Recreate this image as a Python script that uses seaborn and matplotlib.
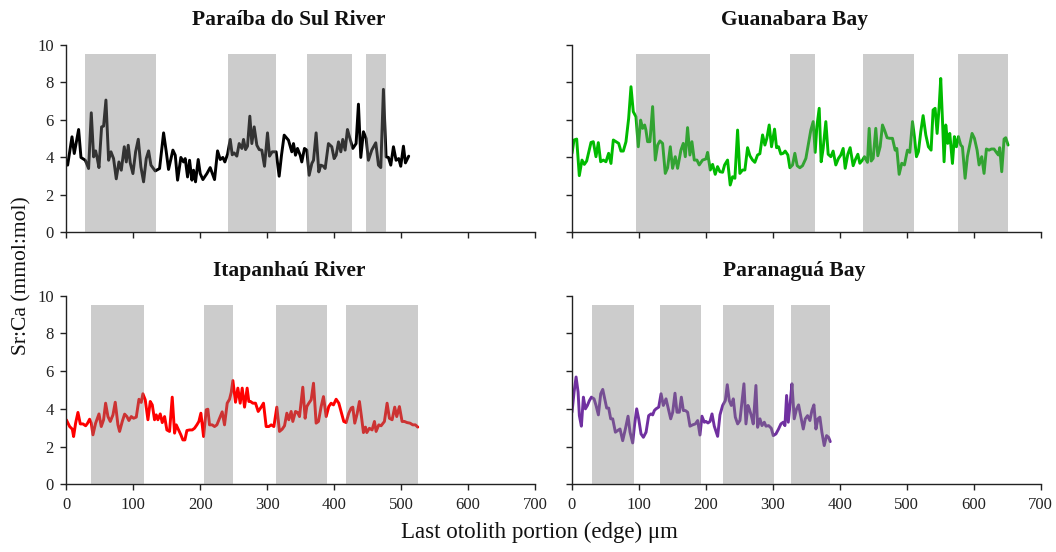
import numpy as np
import pandas as pd
import matplotlib
matplotlib.use("Agg")
import matplotlib.pyplot as plt
import seaborn as sns

# ---------------- data ----------------
titles = ["Paraíba do Sul River", "Guanabara Bay", "Itapanhaú River", "Paranaguá Bay"]

paraiba_x = [2.0, 8.5, 11.9, 18.4, 21.9, 28.4, 33.3, 37.3, 40.8, 43.8, 45.8, 48.8, 52.7, 55.7, 59.2,
             63.2, 66.7, 70.6, 74.6, 78.6, 82.1, 86.6, 89.6, 92.5, 95.5, 99.5, 103.5, 107.5, 111.4,
             115.4, 119.4, 122.9, 126.4, 132.8, 139.3, 145.3, 149.3, 152.7, 159.2, 162.7, 166.2,
             171.1, 175.1, 177.6, 181.1, 184.1, 187.6, 190.0, 193.0, 197.0, 200.0, 204.0, 210.0,
             214.9, 221.4, 225.9, 229.9, 233.8, 236.8, 240.8, 244.8, 247.8, 250.7, 254.7, 258.2,
             262.2, 264.7, 267.7, 270.6, 274.1, 277.1, 280.6, 284.6, 288.1, 292.0, 296.0, 300.5,
             303.5, 307.5, 313.4, 317.9, 321.4, 325.4, 331.8, 336.8, 339.3, 342.3, 345.3, 349.3,
             351.7, 355.7, 359.2, 362.7, 366.7, 369.2, 373.1, 377.1, 380.1, 384.1, 386.6, 391.5,
             396.5, 400.0, 403.0, 406.5, 410.0, 412.9, 416.4, 419.9, 422.9, 427.9, 432.8, 436.3,
             439.8, 443.8, 447.8, 451.2, 456.2, 462.2, 466.2, 469.7, 473.6, 477.6, 481.1, 484.6,
             488.6, 492.5, 496.5, 499.5, 503.5, 506.5, 511.4]
paraiba_y = [3.58, 5.09, 4.20, 5.48, 3.99, 3.84, 3.40, 6.37, 4.02, 4.34, 4.02, 3.45, 5.62, 5.66, 7.05,
             3.84, 4.29, 3.93, 2.85, 3.75, 3.31, 4.56, 3.75, 4.64, 3.70, 3.13, 4.29, 4.96, 3.49,
             2.69, 3.93, 4.34, 3.58, 3.27, 3.40, 5.30, 4.29, 3.35, 4.38, 4.11, 2.78,
             3.99, 3.75, 3.93, 2.95, 3.84, 2.78, 3.31, 2.69, 3.88, 3.13, 2.81, 3.13,
             3.45, 2.81, 4.34, 3.88, 3.99, 3.75, 4.16, 4.95, 4.13, 4.23, 4.06, 4.73,
             4.47, 4.95, 4.41, 4.59, 6.19, 4.73, 5.62, 4.64, 4.41, 4.38, 3.52, 5.30,
             4.06, 4.29, 4.29, 2.99, 4.11, 5.18, 4.91, 4.29, 4.73, 4.11, 4.47, 4.11,
             3.75, 4.47, 4.38, 3.04, 3.67, 3.84, 5.30, 3.22, 3.58, 3.52, 3.40, 4.73,
             4.56, 3.93, 4.11, 4.82, 4.29, 4.95, 4.38, 5.48, 5.09, 4.47, 4.73, 6.83,
             3.99, 5.36, 5.00, 3.84, 4.38, 4.77, 3.58, 3.45, 7.62, 4.02, 3.99, 3.58,
             4.56, 3.84, 3.93, 3.52, 4.59, 3.70, 4.06]

guanabara_x = [0.0, 3.0, 7.0, 10.9, 14.9, 18.4, 21.9, 28.4, 31.8, 35.8, 39.3, 42.8, 46.8, 50.7, 54.7,
               58.2, 61.7, 65.7, 69.7, 73.1, 76.6, 80.6, 84.6, 88.1, 91.5, 95.5, 99.0, 102.5, 105.5,
               108.5, 110.4, 112.9, 116.4, 120.4, 124.4, 127.9, 131.3, 135.3, 139.3, 142.8, 146.8,
               150.2, 154.2, 157.7, 162.7, 166.2, 169.2, 172.6, 176.1, 179.1, 182.6, 186.6, 190.0,
               195.0, 200.0, 202.5, 206.5, 210.0, 213.9, 217.4, 220.9, 224.9, 227.9, 232.3, 236.3,
               239.8, 243.3, 247.3, 250.7, 254.7, 258.2, 262.2, 265.7, 269.7, 273.1, 277.1, 280.6,
               284.6, 288.1, 291.0, 294.5, 298.0, 302.5, 305.5, 308.5, 311.9, 315.4, 318.4, 322.4,
               325.4, 329.4, 332.8, 336.3, 340.3, 344.3, 349.3, 353.2, 356.7, 360.2, 363.2, 365.7,
               369.2, 372.1, 375.1, 379.1, 382.6, 386.6, 390.0, 394.0, 398.0, 401.5, 405.0, 408.0,
               411.9, 415.4, 419.9, 422.9, 426.9, 429.9, 433.8, 436.8, 441.3, 443.8, 446.8, 449.8,
               453.7, 456.7, 460.2, 463.7, 467.2, 470.6, 474.6, 478.6, 482.6, 485.1, 488.6, 492.5,
               496.5, 501.0, 504.5, 508.5, 511.4, 514.4, 517.4, 520.9, 524.4, 528.4, 532.3, 536.3,
               539.3, 542.3, 545.3, 548.3, 550.7, 553.2, 555.7, 558.2, 561.2, 564.2, 568.2, 571.1,
               574.1, 577.1, 580.6, 583.1, 587.1, 590.5, 594.0, 597.5, 601.0, 605.0, 608.0, 611.9,
               615.4, 618.9, 622.9, 626.4, 630.3, 633.8, 636.8, 638.8, 641.8, 645.3, 647.8, 651.2]
guanabara_y = [4.21, 4.92, 4.97, 3.02, 3.85, 3.62, 3.80, 4.79, 4.83, 4.03, 4.78, 3.76, 3.85, 3.76, 4.21,
               3.67, 4.92, 4.83, 4.74, 4.33, 4.33, 4.83, 6.07, 7.76, 6.43, 6.16, 4.56, 5.98, 5.54,
               5.72, 5.45, 4.83, 4.83, 6.70, 3.85, 4.65, 4.87, 4.74, 3.14, 3.44, 4.56,
               3.41, 4.03, 3.41, 4.38, 4.74, 4.03, 5.58, 4.12, 4.83, 3.85, 3.85, 3.59,
               3.85, 3.91, 4.26, 3.32, 3.62, 3.09, 3.50, 3.23, 3.20, 3.59, 3.85, 2.52,
               2.96, 2.88, 5.45, 3.14, 3.32, 3.32, 4.51, 4.08, 3.85, 3.73, 4.12, 4.19,
               5.19, 4.65, 5.01, 5.72, 4.56, 5.50, 4.51, 4.56, 4.17, 4.21, 4.33, 4.12,
               3.44, 3.59, 4.21, 3.55, 3.44, 3.55, 3.94, 4.74, 5.45, 5.90, 4.26, 5.63,
               6.61, 3.76, 4.47, 5.90, 4.16, 4.03, 4.33, 3.59, 3.94, 4.12, 4.47, 3.41,
               4.16, 4.51, 3.55, 3.85, 4.16, 3.68, 3.85, 4.03, 3.73, 5.54, 3.80, 3.94,
               5.54, 4.08, 4.56, 5.72, 5.40, 5.04, 5.01, 5.01, 4.38, 4.47, 3.09, 3.68,
               3.59, 4.38, 4.26, 5.90, 5.10, 4.03, 4.30, 5.36, 6.22, 5.19, 4.56, 4.38,
               6.52, 6.61, 5.27, 6.69, 8.20, 6.07, 3.76, 5.72, 4.74, 5.27, 3.67, 5.10,
               4.56, 5.10, 4.65, 4.56, 2.88, 4.03, 4.65, 5.27, 5.01, 4.38, 3.59, 4.03,
               3.14, 4.44, 4.38, 4.44, 4.44, 4.26, 4.12, 4.51, 3.23, 4.97, 5.04, 4.65]

itapanhau_x = [0.0, 5.0, 9.0, 10.9, 13.9, 17.4, 20.9, 24.9, 28.9, 31.8, 34.8, 37.3, 39.8, 43.8, 48.8,
               52.2, 55.7, 58.7, 62.2, 65.7, 69.7, 73.1, 77.1, 79.6, 83.6, 87.1, 90.5, 93.5, 97.0,
               100.5, 104.5, 108.5, 111.9, 114.4, 117.9, 121.9, 125.4, 128.4, 131.8, 134.3, 136.8,
               140.3, 143.3, 146.8, 150.2, 154.2, 158.2, 161.7, 164.2, 167.7, 171.1, 174.1, 177.1,
               180.1, 184.1, 188.1, 191.5, 195.0, 198.0, 201.0, 205.0, 209.0, 211.4, 213.9, 217.9,
               221.4, 224.9, 228.9, 232.8, 236.3, 240.3, 243.8, 246.3, 248.8, 252.7, 256.2, 259.7,
               262.7, 266.2, 270.1, 272.6, 275.1, 278.6, 282.6, 286.6, 291.0, 294.5, 298.5, 302.5,
               306.0, 310.0, 314.4, 318.4, 322.4, 325.9, 329.4, 332.3, 335.8, 338.3, 342.3, 345.3,
               348.3, 350.7, 353.2, 356.7, 359.2, 362.2, 365.7, 369.2, 373.1, 376.6, 380.6, 384.1,
               388.1, 392.0, 395.5, 399.0, 403.0, 407.0, 410.4, 414.4, 417.9, 421.9, 425.4, 427.9,
               430.8, 434.3, 437.8, 440.8, 443.8, 446.8, 448.8, 452.7, 456.7, 460.2, 462.7, 466.7,
               470.1, 475.1, 479.1, 482.6, 486.6, 490.5, 493.5, 497.5, 501.5, 505.0, 509.0, 513.4,
               517.4, 521.4, 524.9]
itapanhau_y = [3.42, 3.06, 2.92, 2.53, 3.24, 3.81, 3.20, 3.20, 3.10, 3.24, 3.45, 3.24, 2.62, 3.24, 3.73,
               3.06, 3.42, 4.30, 3.59, 3.33, 3.68, 4.35, 3.15, 2.80, 3.33, 3.72, 3.59, 3.38, 3.59,
               3.50, 3.56, 4.51, 4.34, 4.80, 4.48, 3.42, 4.39, 4.21, 3.42, 3.68, 3.42,
               3.73, 3.27, 3.59, 2.88, 2.80, 4.62, 2.71, 3.15, 2.88, 2.62, 2.35, 2.35,
               2.85, 2.88, 2.88, 2.97, 3.15, 3.33, 3.77, 2.53, 3.95, 3.98, 3.15, 3.15,
               3.06, 3.15, 3.50, 3.84, 3.15, 4.30, 4.51, 4.87, 5.50, 4.35, 5.10, 4.30,
               5.10, 4.09, 5.10, 4.39, 4.39, 4.30, 4.30, 3.86, 4.09, 4.30, 3.06, 3.06,
               3.15, 3.06, 4.09, 2.80, 2.92, 3.10, 3.77, 3.42, 3.86, 3.33, 3.86, 3.81,
               3.59, 4.34, 5.15, 3.50, 4.12, 4.30, 4.48, 5.36, 3.24, 3.33, 4.12, 4.65,
               3.59, 4.12, 4.30, 4.21, 4.51, 4.30, 3.86, 3.33, 3.27, 3.77, 4.04, 4.09,
               3.24, 3.73, 4.39, 3.59, 2.74, 3.03, 2.74, 2.97, 2.88, 3.33, 2.80, 3.15,
               3.10, 3.33, 4.30, 3.50, 3.42, 4.09, 3.59, 4.12, 3.33, 3.33, 3.27, 3.24,
               3.15, 3.15, 3.03]

paranagua_x = [0.0, 3.1, 6.1, 9.1, 11.0, 14.0, 17.0, 20.0, 23.0, 26.0, 29.0, 32.9, 35.9, 39.4, 42.9,
               45.9, 48.9, 51.8, 54.8, 57.8, 60.8, 64.8, 68.3, 71.7, 75.7, 79.7, 83.7, 86.7, 90.6,
               93.6, 96.6, 99.6, 103.1, 106.6, 110.6, 114.5, 118.0, 120.5, 123.0, 125.5, 129.5,
               133.0, 136.4, 140.4, 143.9, 147.4, 150.4, 153.8, 156.8, 160.3, 163.3, 166.3, 169.3,
               172.7, 176.2, 180.2, 184.2, 187.7, 191.1, 194.1, 197.6, 200.1, 203.1, 206.1, 209.1,
               212.5, 217.5, 221.0, 225.0, 229.0, 231.9, 234.9, 237.9, 240.9, 243.9, 247.4, 250.8,
               253.8, 256.8, 259.8, 262.8, 264.8, 267.8, 270.7, 274.7, 277.2, 280.7, 283.7, 287.2,
               289.7, 293.6, 297.6, 300.6, 304.6, 308.5, 312.0, 315.5, 318.0, 320.5, 323.0, 326.0,
               328.5, 331.9, 335.4, 338.4, 341.9, 345.4, 348.4, 351.8, 355.3, 358.3, 361.3, 364.3,
               367.3, 370.2, 373.2, 376.7, 380.2, 383.2, 385.7]
paranagua_y = [3.82, 4.89, 5.69, 4.89, 3.64, 3.08, 4.62, 4.00, 4.18, 4.44, 4.62, 4.53, 4.18, 3.68, 4.80,
               5.03, 4.53, 4.04, 4.04, 3.47, 3.47, 2.76, 2.85, 2.93, 2.31, 2.93, 3.61, 2.76, 2.19,
               3.20, 4.00, 3.47, 2.67, 2.49, 2.76, 3.64, 3.73, 3.68, 3.91, 4.00, 4.09,
               4.80, 4.18, 4.53, 4.00, 3.47, 3.82, 4.83, 3.82, 3.82, 4.62, 3.91, 3.91,
               3.82, 3.08, 3.15, 3.20, 3.38, 2.61, 3.61, 3.29, 3.33, 3.25, 3.33, 3.73,
               3.08, 2.54, 3.68, 4.18, 4.44, 5.28, 4.44, 4.18, 4.53, 3.56, 3.20, 3.38,
               4.36, 5.33, 3.20, 4.18, 4.00, 3.64, 3.20, 5.24, 3.02, 3.47, 3.11, 3.29,
               3.08, 3.11, 2.97, 2.58, 2.67, 2.93, 3.20, 3.29, 3.11, 4.71, 3.29, 4.36,
               5.33, 3.47, 4.00, 4.21, 3.56, 2.93, 3.47, 3.64, 3.38, 3.91, 4.21, 2.93,
               3.47, 3.56, 2.76, 2.05, 2.58, 2.49, 2.26]

# shaded intervals (start, end) in µm
paraiba_shade = [(28.4, 133.8), (241.3, 313.4), (359.7, 426.9), (448.3, 477.1)]
guanabara_shade = [(96.0, 206.0), (325.4, 362.7), (434.3, 511.4), (576.1, 651.2)]
itapanhau_shade = [(37.5, 116.0), (205.0, 249.0), (313.0, 389.0), (417.5, 525.0)]
paranagua_shade = [(30.0, 92.1), (131.4, 192.6), (225.0, 302.1), (327.0, 385.7)]
shade_top = 9.5

x_ticks = [0, 100, 200, 300, 400, 500, 600, 700]
y_ticks = [0, 2, 4, 6, 8, 10]
y_label = "Sr:Ca (mmol:mol)"
x_label = "Last otolith portion (edge) μm"

# ---------------- plotting ----------------
sns.set_theme(style="ticks")
plt.rcParams["font.family"] = ["Liberation Serif", "DejaVu Serif"]
plt.rcParams["axes.edgecolor"] = "#222222"

fig = plt.figure(figsize=(10.56, 5.52), dpi=100)

W, H = 1056, 552
ax_w = (535 - 66.3) / W
pos = {
    0: [66.3 / W, 1 - 232.3 / H, ax_w, 187.6 / H],
    1: [572 / W, 1 - 232.3 / H, ax_w, 187.6 / H],
    2: [66.3 / W, 1 - 484.2 / H, ax_w, 188.4 / H],
    3: [572 / W, 1 - 484.2 / H, ax_w, 188.4 / H],
}

series = [
    (paraiba_x, paraiba_y, paraiba_shade, "#000000"),
    (guanabara_x, guanabara_y, guanabara_shade, "#00bb00"),
    (itapanhau_x, itapanhau_y, itapanhau_shade, "#ff0000"),
    (paranagua_x, paranagua_y, paranagua_shade, "#7030a0"),
]

for i, (xs, ys, shades, col) in enumerate(series):
    ax = fig.add_axes(pos[i])
    df = pd.DataFrame({"x": xs, "y": ys})
    sns.lineplot(data=df, x="x", y="y", ax=ax, color=col, linewidth=2.1,
                 estimator=None, sort=False, zorder=2)
    for a, b in shades:
        ax.fill_between([a, b], 0, shade_top, color="#808080", alpha=0.4,
                        linewidth=0, zorder=3)
    ax.set_xlim(0, 700)
    ax.set_ylim(0, 10)
    ax.set_xticks(x_ticks)
    ax.set_yticks(y_ticks)
    ax.set_xlabel("")
    ax.set_ylabel("")
    ax.tick_params(axis="both", direction="out", length=4, width=1,
                   labelsize=12, colors="#222222", labelcolor="#222222")
    ax.tick_params(axis="x", pad=5)
    ax.tick_params(axis="y", pad=5)
    if i < 2:
        ax.tick_params(axis="x", labelbottom=False)
    if i % 2 == 1:
        ax.tick_params(axis="y", labelleft=False)
    for s in ["top", "right"]:
        ax.spines[s].set_visible(False)
    for s in ["left", "bottom"]:
        ax.spines[s].set_linewidth(1.0)
    ax.set_title(titles[i], fontsize=15.5, fontweight="bold", x=0.475, pad=14,
                 color="#111111")

fig.text(22 / W, 1 - 276 / H, y_label, rotation=90, ha="center", va="center",
         fontsize=15.5, color="#111111")
fig.text(539 / W, 1 - 532 / H, x_label, ha="center", va="center",
         fontsize=16.5, color="#111111")

fig.savefig("out.png", dpi=100)
